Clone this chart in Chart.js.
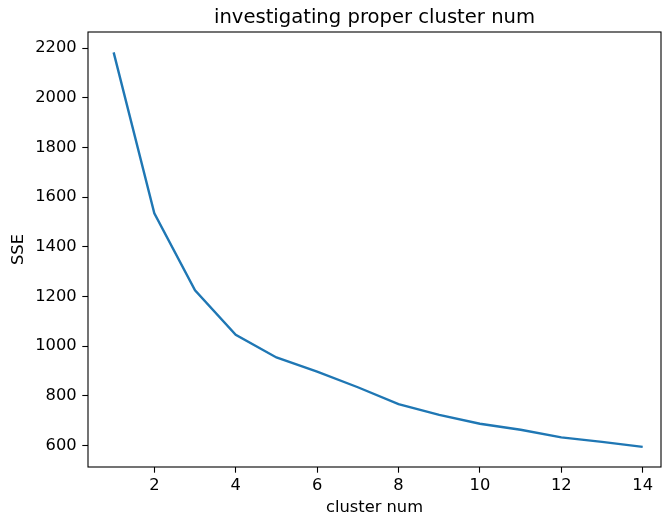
<!DOCTYPE html>
<html>
<head>
<meta charset="utf-8">
<script src="https://cdn.jsdelivr.net/npm/chart.js@4"></script>
<style>
  html, body { margin: 0; padding: 0; background: #fff; }
  #c { display: block; }
</style>
</head>
<body>
<canvas id="c" width="662" height="518"></canvas>
<script>
const clusterNums = [1, 2, 3, 4, 5, 6, 7, 8, 9, 10, 11, 12, 13, 14];
const sseValues = [2183, 1535, 1225, 1046, 955, 898, 835, 767, 724, 688, 664, 633, 615, 595];
const xTicks = [2, 4, 6, 8, 10, 12, 14];
const yTicks = [600, 800, 1000, 1200, 1400, 1600, 1800, 2000, 2200];
const titleText = 'investigating proper cluster num';
const xLabel = 'cluster num';
const yLabel = 'SSE';

const FONT = "'DejaVu Sans', sans-serif";

const framePlugin = {
  id: 'frame',
  afterDraw(chart) {
    const { ctx, chartArea: a } = chart;
    ctx.save();
    ctx.strokeStyle = '#000';
    ctx.lineWidth = 1.1;
    ctx.strokeRect(a.left, a.top, a.right - a.left, a.bottom - a.top);
    ctx.fillStyle = '#000';
    ctx.font = '19.6px ' + FONT;
    ctx.textAlign = 'center';
    ctx.textBaseline = 'alphabetic';
    ctx.fillText(titleText, (a.left + a.right) / 2, a.top - 9.5);
    ctx.restore();
  }
};

new Chart(document.getElementById('c'), {
  type: 'line',
  data: {
    datasets: [{
      data: clusterNums.map((x, i) => ({ x: x, y: sseValues[i] })),
      borderColor: '#1f77b4',
      borderWidth: 2.4,
      pointRadius: 0,
      tension: 0,
      fill: false
    }]
  },
  options: {
    responsive: false,
    devicePixelRatio: 1,
    animation: false,
    layout: { padding: { top: 32, right: 1, left: 0, bottom: 0 } },
    plugins: { legend: { display: false }, tooltip: { enabled: false }, title: { display: false } },
    scales: {
      x: {
        type: 'linear',
        min: 0.37,
        max: 14.45,
        afterBuildTicks(s) { s.ticks = xTicks.map(v => ({ value: v })); },
        afterFit(s) { s.height = 51; },
        border: { display: false },
        grid: { display: true, drawOnChartArea: false, drawTicks: true, tickLength: 5.7, color: '#000', tickColor: '#000', tickWidth: 1.1 },
        ticks: { color: '#000', font: { family: FONT, size: 16.3 }, padding: 3.5, maxRotation: 0, autoSkip: false, callback: v => String(v) },
        title: { display: true, text: xLabel, color: '#000', font: { family: FONT, size: 16.3 }, padding: { top: 0, bottom: 0.5 } }
      },
      y: {
        type: 'linear',
        min: 514,
        max: 2265,
        afterBuildTicks(s) { s.ticks = yTicks.map(v => ({ value: v })); },
        afterFit(s) { s.width = 88; },
        border: { display: false },
        grid: { display: true, drawOnChartArea: false, drawTicks: true, tickLength: 5.7, color: '#000', tickColor: '#000', tickWidth: 1.1 },
        ticks: { color: '#000', font: { family: FONT, size: 16.3 }, padding: 5.7, autoSkip: false, callback: v => String(v) },
        title: { display: true, text: yLabel, color: '#000', font: { family: FONT, size: 16.3 }, padding: { top: 8.7, bottom: 0 } }
      }
    }
  },
  plugins: [framePlugin]
});
</script>
</body>
</html>
